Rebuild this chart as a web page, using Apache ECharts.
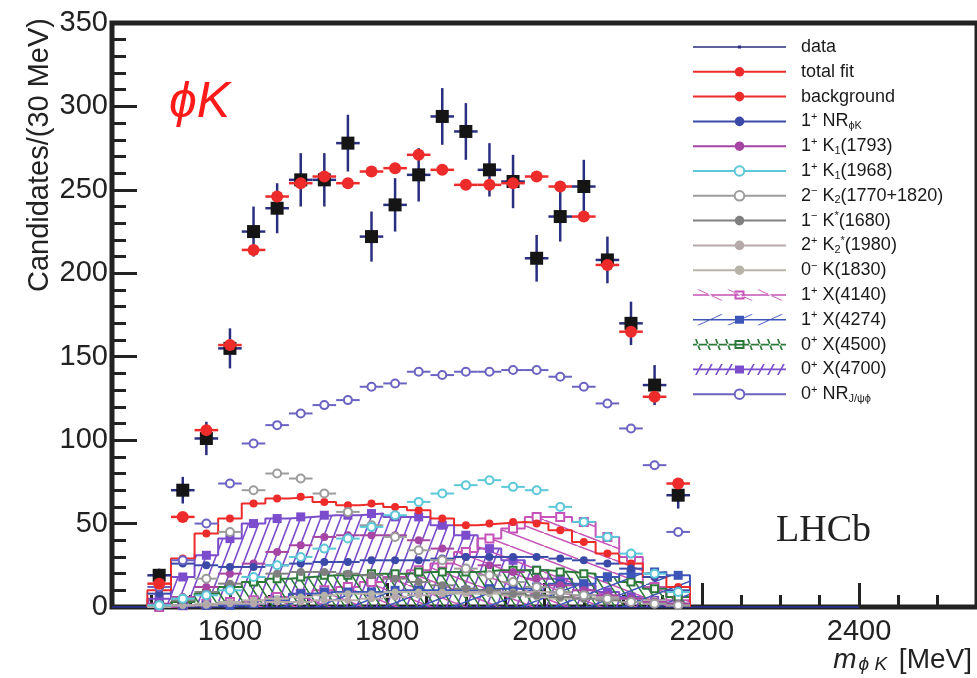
<!DOCTYPE html>
<html><head><meta charset="utf-8">
<script src="https://cdn.jsdelivr.net/npm/echarts@6/dist/echarts.min.js"></script>
<style>html,body{margin:0;padding:0;background:#fff}#c{width:977px;height:678px}</style>
</head><body><div id="c"></div>
<script>
// ---------- data ----------
const binCenters = [1510,1540,1570,1600,1630,1660,1690,1720,1750,1780,1810,1840,1870,1900,1930,1960,1990,2020,2050,2080,2110,2140,2170];
const binHalfWidth = 15;
const xTickLabels = [1600,1800,2000,2200,2400];
const dataZeroRange = [1450, 2400];
const dataCounts = [19,70,101,155,225,239,256,256,278,222,241,259,294,285,262,255,209,234,252,208,170,133,67];
const dataErrors = [4,8,10,12,15,15,16,16,17,15,16,16,17,17,16,16,14,15,16,14,13,12,8];
const totalFit   = [14,54,106,157,214,246,254,258,254,261,263,271,262,253,253,254,258,252,234,205,165,126,74];
const background = [10,29,44,53,62,65,66,63,61,62,60,58,53,49,50,51,50,46,39,32,26,18,12];
const nrPhiK     = [8,26,25,24,24,25,26,27,27,28,28,28,29,30,30,30,30,29,28,26,23,18,10];
const k1_1793    = [2,6,12,20,26,33,37,42,43,43,43,40,35,30,25,21,17,13,10,7,5,3,2];
const k1_1968    = [1,5,7,10,18,25,30,35,41,48,55,63,68,73,76,72,70,60,51,42,32,20,9];
const k2_1770    = [1,5,17,45,70,80,77,68,57,49,42,34,28,23,19,15,12,9,7,5,3,2,1];
const kst_1680   = [1,4,9,14,18,20,21,21,20,19,17,15,13,11,10,8,7,6,5,4,3,2,1];
const k2st_1980  = [0,1,1,2,2,3,3,4,4,5,6,7,8,9,9,9,9,8,7,6,5,4,2];
const k_1830     = [0,1,2,3,4,5,6,7,8,8,9,9,9,8,8,7,6,5,5,4,3,2,1];
const x4140      = [0,1,2,3,4,6,8,10,12,15,18,22,26,33,41,47,54,54,51,42,30,12,4];
const x4274      = [1,1,1,1,2,4,8,9,9,9,10,10,10,10,11,11,12,14,14,18,20,21,19];
const x4500      = [1,3,8,12,15,17,18,19,19,20,20,21,21,21,22,22,22,21,20,18,15,11,6];
const x4700      = [5,18,31,41,50,53,54,55,55,56,54,54,49,43,35,28,22,17,13,9,6,4,2];
const nrJpsiPhi  = [12,28,50,74,98,109,116,121,124,132,134,141,139,141,141,142,142,138,132,122,107,85,45];

// ---------- styles ----------
const NAVY='#2a2e7e', RED='#ee2b2b';
const FONT='Liberation Sans';

function makeHatch(color, w, h, dir, lw){
  const c=document.createElement('canvas'); c.width=w; c.height=h;
  const g=c.getContext('2d'); g.strokeStyle=color; g.lineWidth=lw;
  g.beginPath();
  for (const k of [-1,0,1]) {
    const ox=k*w;
    if (dir==='/') { g.moveTo(ox,h); g.lineTo(ox+w,0); }
    else { g.moveTo(ox,0); g.lineTo(ox+w,h); }
  }
  g.stroke();
  return c;
}
function stepPoints(vals){
  const n=vals.length;
  const pts=[[binCenters[0]-binHalfWidth,0]];
  vals.forEach((v,i)=>{pts.push([binCenters[i]-binHalfWidth,v],[binCenters[i]+binHalfWidth,v]);});
  pts.push([binCenters[n-1]+binHalfWidth,0]);
  return pts;
}
function centerPoints(vals){ return binCenters.map((c,i)=>[c,vals[i]]); }

// legend icons
const ICON_BOX='M0 0L0.05 0L0 0.05Z M93 12L92.95 12L93 11.95Z ';
const ICON_LINE='M0 5.2H93V6.8H0Z ';
function slants(dir, xs, dx, lw){
  return xs.map(x0 => dir==='\\'
    ? `M${x0} 0.5L${x0+dx} 11.5L${x0+dx+lw} 11.5L${x0+lw} 0.5Z`
    : `M${x0} 11.5L${x0+dx} 0.5L${x0+dx+lw} 0.5L${x0+lw} 11.5Z`).join(' ');
}
const SQ_FILLED=' M42 2H51V10H42Z';
const SQ_OPEN=' M41.5 1.5H51.5V10.5H41.5Z M43.5 3.5V8.5H49.5V3.5Z';

const series=[];
let zc=2;
series.push({type:'line', name:'data-zero', data: dataZeroRange.map(x=>[x,0]), symbol:'none',
  lineStyle:{color:NAVY,width:2}, z:zc++, silent:true});

const hatched=[
  {name:'0+ X(4700)', vals:x4700, color:'#7b4ccb', hatch:['/',10,26,1.6], symbol:'rect', size:9},
  {name:'1+ X(4140)', vals:x4140, color:'#c553b8', hatch:['\\',34,13,1.6], symbol:'emptyRect', size:8},
  {name:'0+ X(4500)', vals:x4500, color:'#2c7a3a', hatch:['\\',9,14,1.5], symbol:'emptyRect', size:7},
  {name:'1+ X(4274)', vals:x4274, color:'#3d55b8', hatch:['/',34,13,1.6], symbol:'rect', size:9},
];
hatched.forEach(h=>{
  series.push({type:'line', name:h.name+'-fill', data:stepPoints(h.vals), symbol:'none', silent:true,
    lineStyle:{color:h.color,width:2},
    areaStyle:{opacity:1, color:{image:makeHatch(h.color,h.hatch[1],h.hatch[2],h.hatch[0],h.hatch[3]), repeat:'repeat'}},
    z:zc++});
});
series.push({type:'line', name:'background-step', data:stepPoints(background), symbol:'none', silent:true,
  lineStyle:{color:RED,width:2}, z:zc++});

function hBars(name, vals, color, width){
  return {type:'custom', name:name+'-bars', silent:true, z:zc++, data:centerPoints(vals), encode:{x:0,y:1},
    renderItem:(p,api)=>{ const x=api.value(0), y=api.value(1);
      const a=api.coord([x-binHalfWidth,y]), b=api.coord([x+binHalfWidth,y]);
      return {type:'line', shape:{x1:a[0],y1:a[1],x2:b[0],y2:b[1]}, style:{stroke:color,lineWidth:width}}; }};
}
function markers(name, vals, color, symbol, size){
  return {type:'line', name, data:centerPoints(vals), symbol, symbolSize:size, showSymbol:true, silent:true,
    itemStyle:{color}, lineStyle:{width:0,opacity:0}, z:zc++, emphasis:{disabled:true}};
}
hatched.forEach(h=>{ series.push(markers(h.name, h.vals, h.color, h.symbol, h.size)); });
series.push(markers('background', background, RED, 'circle', 8));

const plain=[
  {name:'0- K(1830)', vals:k_1830, color:'#b6b4a6', symbol:'circle', size:7},
  {name:'2+ K2*(1980)', vals:k2st_1980, color:'#b5a9a9', symbol:'circle', size:7},
  {name:'1- K*(1680)', vals:kst_1680, color:'#808080', symbol:'circle', size:8},
  {name:'1+ K1(1793)', vals:k1_1793, color:'#a745a5', symbol:'circle', size:8},
  {name:'1+ NRphiK', vals:nrPhiK, color:'#3b4aa8', symbol:'circle', size:8},
  {name:'2- K2(1770+1820)', vals:k2_1770, color:'#9c9c9c', symbol:'emptyCircle', size:8},
  {name:'1+ K1(1968)', vals:k1_1968, color:'#5ac8d8', symbol:'emptyCircle', size:8},
  {name:'0+ NRJpsiphi', vals:nrJpsiPhi, color:'#6b63c2', symbol:'emptyCircle', size:8},
];
plain.forEach(c=>{ series.push(hBars(c.name,c.vals,c.color,2)); series.push(markers(c.name,c.vals,c.color,c.symbol,c.size)); });

series.push({type:'custom', name:'data-err', silent:true, z:zc++,
  data: binCenters.map((c,i)=>[c,dataCounts[i],dataErrors[i]]), encode:{x:0,y:1},
  renderItem:(p,api)=>{ const x=api.value(0), y=api.value(1), e=api.value(2);
    const l=api.coord([x-binHalfWidth,y]), r=api.coord([x+binHalfWidth,y]);
    const t=api.coord([x,y+e]), b=api.coord([x,y-e]);
    return {type:'group', children:[
      {type:'line', shape:{x1:l[0],y1:l[1],x2:r[0],y2:r[1]}, style:{stroke:NAVY,lineWidth:2.5}},
      {type:'line', shape:{x1:t[0],y1:t[1],x2:b[0],y2:b[1]}, style:{stroke:NAVY,lineWidth:2.5}}]}; }});
series.push(markers('data', dataCounts, '#151515', 'rect', 13));
series.push(hBars('total fit', totalFit, RED, 2.5));
series.push(markers('total fit', totalFit, RED, 'circle', 12));

const legendOrder=[
 ['data','data'],['total fit','total fit'],['background','background'],
 ['1+ NRphiK','1{sp|+} NR{sb|ϕK}'],['1+ K1(1793)','1{sp|+} K{sb|1}(1793)'],['1+ K1(1968)','1{sp|+} K{sb|1}(1968)'],
 ['2- K2(1770+1820)','2{sp|−} K{sb|2}(1770+1820)'],['1- K*(1680)','1{sp|−} K{sp|*}(1680)'],
 ['2+ K2*(1980)','2{sp|+} K{sb|2}{sp|*}(1980)'],['0- K(1830)','0{sp|−} K(1830)'],
 ['1+ X(4140)','1{sp|+} X(4140)'],['1+ X(4274)','1{sp|+} X(4274)'],['0+ X(4500)','0{sp|+} X(4500)'],
 ['0+ X(4700)','0{sp|+} X(4700)'],['0+ NRJpsiphi','0{sp|+} NR{sb|J/ψϕ}']
];
const labelMap={}; legendOrder.forEach(([k,v])=>labelMap[k]=v);
const colorOf={}; plain.concat(hatched).forEach(c=>colorOf[c.name]=c.color);
colorOf['total fit']=RED; colorOf['background']=RED;
const hatchIcons={
  '1+ X(4140)': ICON_BOX+ICON_LINE+slants('\\',[4,34,64],24,2)+SQ_OPEN,
  '1+ X(4274)': ICON_BOX+ICON_LINE+slants('/',[4,34,64],24,2)+SQ_FILLED,
  '0+ X(4500)': ICON_BOX+ICON_LINE+slants('\\',[2,12,22,32,54,64,74,84],4,1.8)+SQ_OPEN,
  '0+ X(4700)': ICON_BOX+ICON_LINE+slants('/',[2,12,22,32,54,64,74,84],6,1.8)+SQ_FILLED,
};
const legendData=legendOrder.map(([k])=>{
  if (k==='data') return {name:k, icon:'path://'+ICON_BOX+ICON_LINE+'M45 4.5H48V7.5H45Z', itemStyle:{color:NAVY}};
  if (hatchIcons[k]) return {name:k, icon:'path://'+hatchIcons[k]};
  return {name:k, lineStyle:{width:2, color:colorOf[k], opacity:1}};
});

const chart=echarts.init(document.getElementById('c'),null,{renderer:'canvas'});
chart.setOption({
  animation:false,
  backgroundColor:'#fff',
  textStyle:{fontFamily:FONT},
  grid:{left:112, top:23, right:-10, bottom:71, show:true, borderColor:'#222', borderWidth:5, backgroundColor:'transparent'},
  xAxis:[
    {type:'value', min:1450, max:2550, position:'bottom', axisLine:{show:false}, splitLine:{show:false},
     axisTick:{show:true, inside:true, length:24, customValues:xTickLabels, lineStyle:{color:'#222',width:3}},
     axisLabel:{customValues:xTickLabels, formatter:v=>String(v), fontSize:29, color:'#222', margin:10, fontFamily:FONT}},
    {type:'value', min:1450, max:2550, interval:50, position:'bottom', axisLine:{show:false}, splitLine:{show:false},
     axisTick:{show:true, inside:true, length:12, lineStyle:{color:'#222',width:3}}, axisLabel:{show:false}}
  ],
  yAxis:{type:'value', min:0, max:350, interval:50, axisLine:{show:false}, splitLine:{show:false},
     axisTick:{show:true, inside:true, length:25, lineStyle:{color:'#222',width:3}},
     minorTick:{show:true, splitNumber:5, length:14, lineStyle:{color:'#222',width:3}},
     axisLabel:{fontSize:29, color:'#222', margin:4, formatter:v=>String(v), fontFamily:FONT}},
  legend:{orient:'vertical', left:692, top:37, padding:0, itemGap:4.8, itemWidth:93, itemHeight:12,
    selectedMode:false, data:legendData, formatter:n=>labelMap[n]||n,
    textStyle:{fontFamily:FONT, fontSize:18, color:'#1a1a1a', lineHeight:20, padding:[0,0,0,10],
      rich:{sp:{fontFamily:FONT, fontSize:11, lineHeight:11, verticalAlign:'top', color:'#1a1a1a'},
            sb:{fontFamily:FONT, fontSize:11, lineHeight:5, verticalAlign:'bottom', color:'#1a1a1a'}}}},
  graphic:[
    {type:'text', x:40, y:18, rotation:Math.PI/2, silent:true,
     style:{text:'Candidates/(30 MeV)', fontFamily:FONT, fontSize:29, fill:'#222', align:'right', verticalAlign:'middle'}},
    {type:'text', right:5, top:635, silent:true,
     style:{text:'{m|m}{s|ϕ K}{u| [MeV]}', fill:'#222',
       rich:{m:{fontFamily:FONT, fontStyle:'italic', fontSize:28, lineHeight:28, verticalAlign:'top', fill:'#222'},
             s:{fontFamily:FONT, fontStyle:'italic', fontSize:19, lineHeight:20, padding:[20,4,0,2], verticalAlign:'bottom', fill:'#222'},
             u:{fontFamily:FONT, fontSize:28, lineHeight:28, verticalAlign:'top', fill:'#222'}}}},
    {type:'text', x:169, y:103, silent:true,
     style:{text:'ϕK', fontFamily:FONT, fontStyle:'italic', fontSize:50, fill:'#ff1a1a', verticalAlign:'middle'}},
    {type:'text', x:776, y:531, silent:true,
     style:{text:'LHCb', fontFamily:'Liberation Serif', fontSize:38, fill:'#222', verticalAlign:'middle'}}
  ],
  series
});
</script></body></html>
